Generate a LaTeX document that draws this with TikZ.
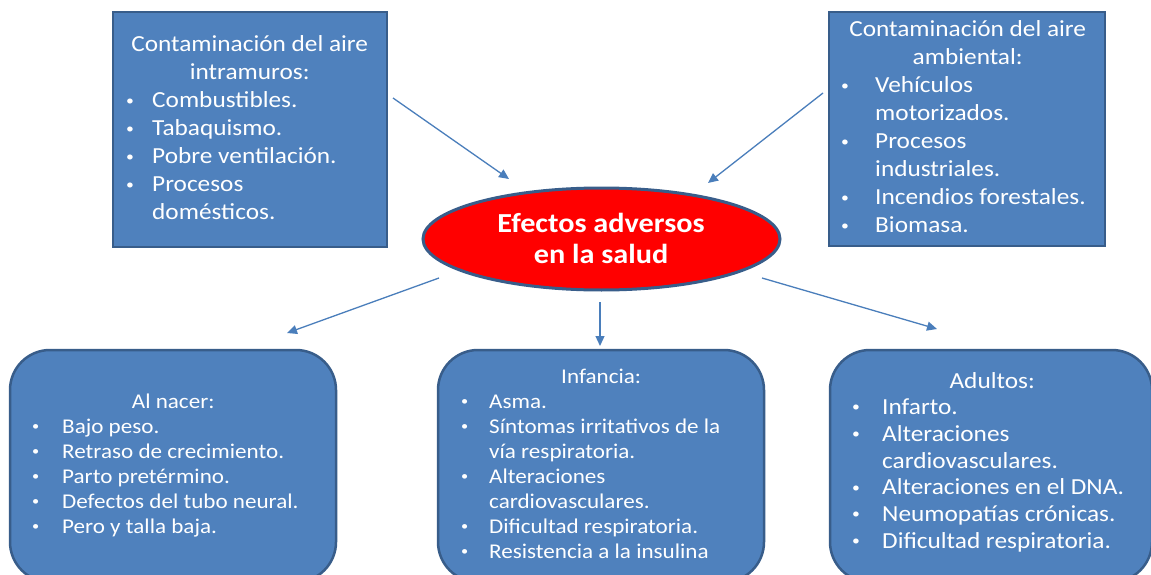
\documentclass[tikz,border=0pt]{standalone}
\usepackage{fontspec}
\usepackage{graphicx}
\setmainfont{Carlito}[FakeStretch=1.1]
\usetikzlibrary{shapes.geometric,arrows.meta}
\definecolor{boxfill}{HTML}{4F81BD}
\definecolor{boxline}{HTML}{385D8A}
\definecolor{arrowc}{HTML}{4A7EBB}
\newcommand{\nl}{\hfil\break}
\newcommand{\bitem}[2]{\par\noindent\hangindent=#1\hangafter=1\makebox[#1][l]{\hspace{1pt}\raisebox{0.12em}{\scalebox{0.62}{•}}}#2}
\tikzset{
  sqbox/.style={draw=boxline, fill=boxfill, line width=2.5pt, inner sep=0pt},
  rdbox/.style={sqbox, rounded corners=40pt},
  ell/.style={ellipse, draw=boxline, fill=red, line width=3pt, inner sep=0pt,
    minimum width=357pt, minimum height=102pt},
  txt/.style={anchor=base west, inner sep=0pt, text=white},
  arr/.style={draw=arrowc, line width=1.3pt, -{Triangle[length=10pt,width=9pt]}}
}
\begin{document}
\begin{tikzpicture}[x=1pt,y=-1pt]
\useasboundingbox (0,0) rectangle (1151,575);
\clip (0,0) rectangle (1151,575);
\fill[white] (0,0) rectangle (1151,575);
% boxes
\node[sqbox, minimum width=274pt, minimum height=235pt] (tl) at (250,129.5) {};
\node[sqbox, minimum width=276pt, minimum height=234pt] (tr) at (967,129) {};
\node[rdbox, minimum width=326pt, minimum height=232pt] (bl) at (173,466) {};
\node[rdbox, minimum width=326pt, minimum height=232pt] (bm) at (601,466) {};
\node[rdbox, minimum width=322pt, minimum height=232pt] (br) at (991,466) {};
\node[ell] (ef) at (601.5,239) {};
% texts
\node[txt] (t1) at (125,52) {\parbox[t]{249pt}{\fontsize{23}{28}\selectfont
  {\centering Contaminación del aire\\ intramuros:\par}\raggedright
  \bitem{27pt}{Combustibles.}
  \bitem{27pt}{Tabaquismo.}
  \bitem{27pt}{Pobre ventilación.}
  \bitem{27pt}{Procesos\nl domésticos.}}};
\node[txt] (t2) at (840,37) {\parbox[t]{255pt}{\fontsize{23}{28}\selectfont
  {\centering Contaminación del aire\\ ambiental:\par}\raggedright
  \bitem{35pt}{Vehículos\nl motorizados.}
  \bitem{35pt}{Procesos\nl industriales.}
  \bitem{35pt}{Incendios forestales.}
  \bitem{35pt}{Biomasa.}}};
\node[txt, anchor=base, font=\bfseries\fontsize{27.5}{31.5}\selectfont, align=center] (t6) at (601,263.5) {Efectos adversos\\ en la salud};
\node[txt] (t3) at (31,408) {\parbox[t]{284pt}{\fontsize{21}{25}\selectfont
  {\centering Al nacer:\par}\raggedright
  \bitem{31pt}{Bajo peso.}
  \bitem{31pt}{Retraso de crecimiento.}
  \bitem{31pt}{Parto pretérmino.}
  \bitem{31pt}{Defectos del tubo neural.}
  \bitem{31pt}{Pero y talla baja.}}};
\node[txt] (t4) at (460,383) {\parbox[t]{282pt}{\fontsize{21}{25}\selectfont
  {\centering Infancia:\par}\raggedright
  \bitem{29pt}{Asma.}
  \bitem{29pt}{Síntomas irritativos de la\nl vía respiratoria.}
  \bitem{29pt}{Alteraciones\nl cardiovasculares.}
  \bitem{29pt}{Dificultad respiratoria.}
  \bitem{29pt}{Resistencia a la insulina}}};
\node[txt] (t5) at (851,388) {\parbox[t]{282pt}{\fontsize{23}{26.7}\selectfont
  {\centering Adultos:\par}\raggedright
  \bitem{31pt}{Infarto.}
  \bitem{31pt}{Alteraciones\nl cardiovasculares.}
  \bitem{31pt}{Alteraciones en el DNA.}
  \bitem{31pt}{Neumopatías crónicas.}
  \bitem{31pt}{Dificultad respiratoria.}}};
% connector ends
\coordinate (a1s) at (393,98);  \coordinate (a1e) at (509,179);
\coordinate (a2s) at (823,93);  \coordinate (a2e) at (708,183);
\coordinate (a3s) at (439,278); \coordinate (a3e) at (287,333);
\coordinate (a4s) at (600,302); \coordinate (a4e) at (600,346);
\coordinate (a5s) at (762,278); \coordinate (a5e) at (937,329);
\draw[arr] (a1s) -- (a1e);
\draw[arr] (a2s) -- (a2e);
\draw[arr] (a3s) -- (a3e);
\draw[arr] (a4s) -- (a4e);
\draw[arr] (a5s) -- (a5e);
\end{tikzpicture}
\end{document}
